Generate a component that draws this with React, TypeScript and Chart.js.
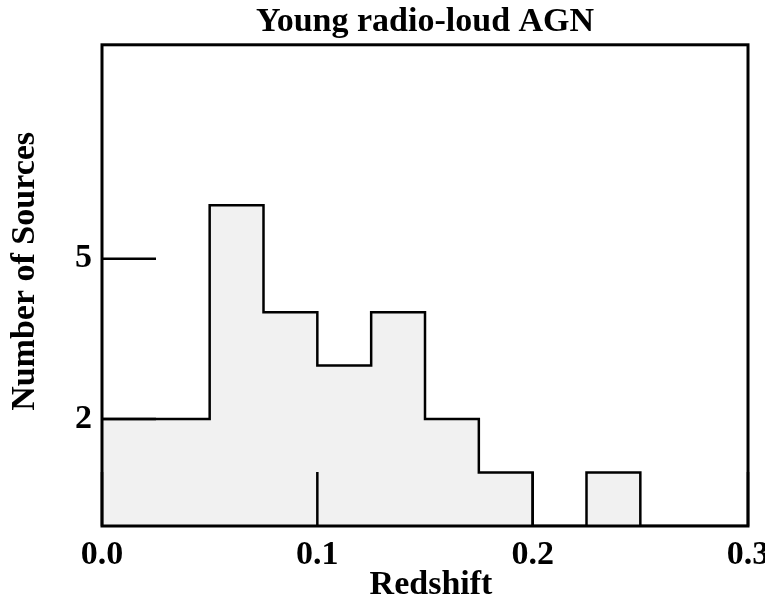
import React, { useEffect, useRef } from "react";
import { Chart, registerables } from "chart.js";

Chart.register(...registerables);

const chartTitle = "Young radio-loud AGN";
const xTitle = "Redshift";
const yTitle = "Number of Sources";
// histogram bin edges (redshift) and counts per bin
const binEdges = [0, 0.025, 0.05, 0.075, 0.1, 0.125, 0.15, 0.175, 0.2, 0.225, 0.25, 0.275, 0.3];
const counts = [2, 2, 6, 4, 3, 4, 2, 1, 0, 1, 0, 0];
const xTickValues = [0, 0.1, 0.2, 0.3];
const yTickValues = [2, 5];

const FONT = "'Liberation Serif', 'Times New Roman', serif";
const SIZE = 34;

export default function App() {
  const ref = useRef<HTMLCanvasElement>(null);

  useEffect(() => {
    if (!ref.current) return;
    const points = counts.map((c, i) => ({ x: binEdges[i], y: c }));
    points.push({ x: binEdges[binEdges.length - 1], y: counts[counts.length - 1] });

    // nudge axis-title centring (titles only, while scales draw) to match the reference
    const titleNudge = {
      id: "titleNudge",
      beforeDraw(chart: any) {
        chart.scales.y.bottom -= 28;
        chart.scales.x.left += 12;
      },
      beforeDatasetsDraw(chart: any) {
        chart.scales.y.bottom += 28;
        chart.scales.x.left -= 12;
      },
    };

    const frameTicks = {
      id: "frameTicks",
      afterDatasetsDraw(chart: any) {
        const { ctx, chartArea: a, scales } = chart;
        const xs = scales.x;
        const ys = scales.y;
        const len = 54;
        ctx.save();
        ctx.strokeStyle = "#000";
        ctx.lineWidth = 2.5;
        ctx.beginPath();
        xTickValues.forEach((v) => {
          const px = xs.getPixelForValue(v);
          ctx.moveTo(px, a.bottom);
          ctx.lineTo(px, a.bottom - len);
        });
        yTickValues.forEach((v) => {
          const py = ys.getPixelForValue(v);
          ctx.moveTo(a.left, py);
          ctx.lineTo(a.left + len, py);
        });
        ctx.stroke();
        ctx.lineWidth = 3;
        ctx.strokeRect(a.left, a.top, a.right - a.left, a.bottom - a.top);
        ctx.restore();
      },
    };

    const chart = new Chart(ref.current, {
      type: "line",
      data: {
        datasets: [
          {
            data: points,
            stepped: "before",
            fill: "origin",
            backgroundColor: "#f1f1f1",
            borderColor: "#000",
            borderWidth: 2.5,
            pointRadius: 0,
            tension: 0,
          } as any,
        ],
      },
      options: {
        animation: false,
        responsive: true,
        maintainAspectRatio: false,
        layout: { padding: { left: 0, right: 17, top: 0, bottom: 0 } },
        plugins: {
          legend: { display: false },
          tooltip: { enabled: false },
          title: {
            display: true,
            fullSize: false,
            text: chartTitle,
            color: "#000",
            font: { family: FONT, size: SIZE, weight: "bold" },
            padding: { top: 2, bottom: 2 },
          },
        },
        scales: {
          x: {
            type: "linear",
            min: 0,
            max: 0.3,
            grid: { display: false, drawTicks: false },
            border: { display: false },
            ticks: {
              stepSize: 0.1,
              autoSkip: false,
              maxRotation: 0,
              padding: 9,
              labelOffset: 0,
              color: "#000",
              font: { family: FONT, size: SIZE, weight: "bold" },
              callback: (v: any) => Number(v).toFixed(1),
            },
            title: {
              display: true,
              text: xTitle,
              color: "#000",
              font: { family: FONT, size: SIZE, weight: "bold" },
              padding: { top: 0, bottom: 2 },
            },
            afterBuildTicks: (s: any) => {
              s.ticks = xTickValues.map((v) => ({ value: v }));
            },
            afterFit: (s: any) => {
              s.height = 82;
              s.paddingLeft = 0;
              s.paddingRight = 0;
            },
          },
          y: {
            type: "linear",
            min: 0,
            max: 9,
            grid: { display: false, drawTicks: false },
            border: { display: false },
            ticks: {
              padding: 10,
              color: "#000",
              font: { family: FONT, size: SIZE, weight: "bold" },
            },
            title: {
              display: true,
              text: yTitle,
              color: "#000",
              font: { family: FONT, size: SIZE, weight: "bold" },
              padding: { top: 5, bottom: 0 },
            },
            afterBuildTicks: (s: any) => {
              s.ticks = yTickValues.map((v) => ({ value: v }));
            },
            afterFit: (s: any) => {
              s.width = 102;
            },
          },
        },
      },
      plugins: [frameTicks, titleNudge],
    });
    return () => chart.destroy();
  }, []);

  return (
    <div style={{ position: "fixed", left: 0, top: 0, width: 765, height: 608 }}>
      <canvas ref={ref} />
    </div>
  );
}
